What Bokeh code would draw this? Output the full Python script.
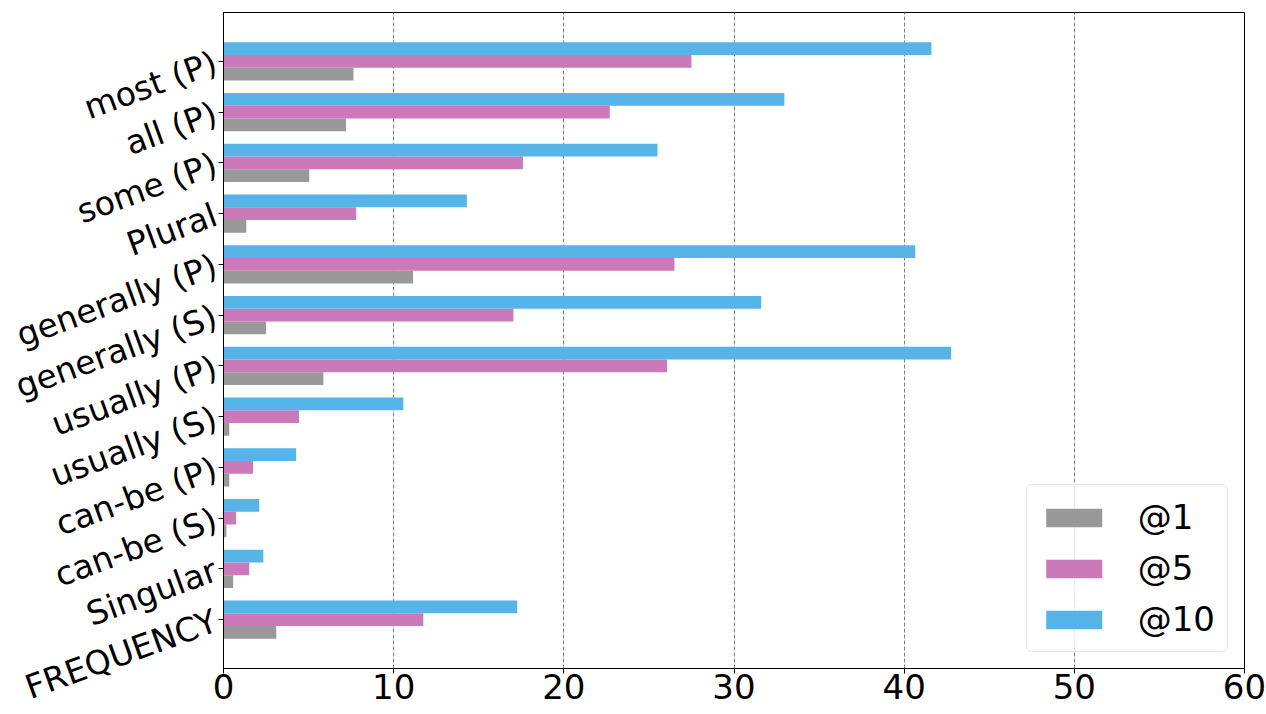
from bokeh.plotting import figure
from bokeh.models import ColumnDataSource, FixedTicker, Range1d, Legend
from bokeh.transform import dodge
from bokeh.embed import file_html
from bokeh.resources import INLINE
import math

# categories listed bottom -> top
categories = ["FREQUENCY", "Singular", "can-be (S)", "can-be (P)", "usually (S)",
              "usually (P)", "generally (S)", "generally (P)", "Plural",
              "some (P)", "all (P)", "most (P)"]
at1 = [3.1, 0.57, 0.17, 0.34, 0.34, 5.87, 2.5, 11.14, 1.34, 5.04, 7.2, 7.64]
at5 = [11.74, 1.51, 0.74, 1.74, 4.44, 26.07, 17.04, 26.5, 7.8, 17.6, 22.7, 27.5]
at10 = [17.26, 2.34, 2.1, 4.27, 10.57, 42.76, 31.6, 40.65, 14.3, 25.5, 32.96, 41.6]
x_ticks = [0, 10, 20, 30, 40, 50, 60]

series = [("@1", "at1", "#999999", -0.25),
          ("@5", "at5", "#CC79BA", 0.0),
          ("@10", "at10", "#56B4E9", 0.25)]

pos = list(range(len(categories)))
src = ColumnDataSource(dict(pos=pos, at1=at1, at5=at5, at10=at10))

FONT = "DejaVu Sans"
FS = "34px"

p = figure(width=1266, height=714, output_backend="svg",
           toolbar_location=None,
           x_range=Range1d(0, 60), y_range=Range1d(-0.9625, 11.9625),
           min_border_left=215, min_border_right=22, min_border_top=12,
           min_border_bottom=46)

items = []
for name, key, color, off in series:
    r = p.hbar(y=dodge("pos", off), right=key, left=0, height=0.25,
               source=src, fill_color=color, line_color=None)
    items.append((name, [r]))

p.xaxis.ticker = FixedTicker(ticks=x_ticks)
p.yaxis.ticker = FixedTicker(ticks=pos)
p.yaxis.major_label_overrides = {i: c for i, c in enumerate(categories)}
p.yaxis.major_label_orientation = math.radians(20)

for ax in (p.xaxis, p.yaxis):
    ax.major_label_text_font = FONT
    ax.major_label_text_font_size = FS
    ax.major_label_text_color = "black"
    ax.axis_line_color = "black"
    ax.major_tick_line_color = "black"
    ax.major_tick_out = 5
    ax.major_tick_in = 0
    ax.minor_tick_line_color = None
p.xaxis.major_label_standoff = 0
p.yaxis.major_label_text_font_size = "33px"
p.yaxis.major_label_standoff = 3

p.ygrid.grid_line_color = None
p.xgrid.grid_line_color = "#808080"
p.xgrid.grid_line_dash = "4 2"
p.xgrid.grid_line_width = 1
p.outline_line_color = "black"
p.outline_line_width = 1

legend = Legend(items=items, location="bottom_right")
legend.label_text_font = FONT
legend.label_text_font_size = FS
legend.label_text_color = "black"
legend.glyph_width = 70
legend.glyph_height = 23
legend.label_standoff = 29
legend.spacing = 11
legend.padding = 12
legend.margin = 16
legend.border_line_color = "#cccccc"
legend.border_radius = 6
legend.background_fill_alpha = 0.8
p.add_layout(legend)

open("out.html", "w").write(file_html(p, INLINE))
